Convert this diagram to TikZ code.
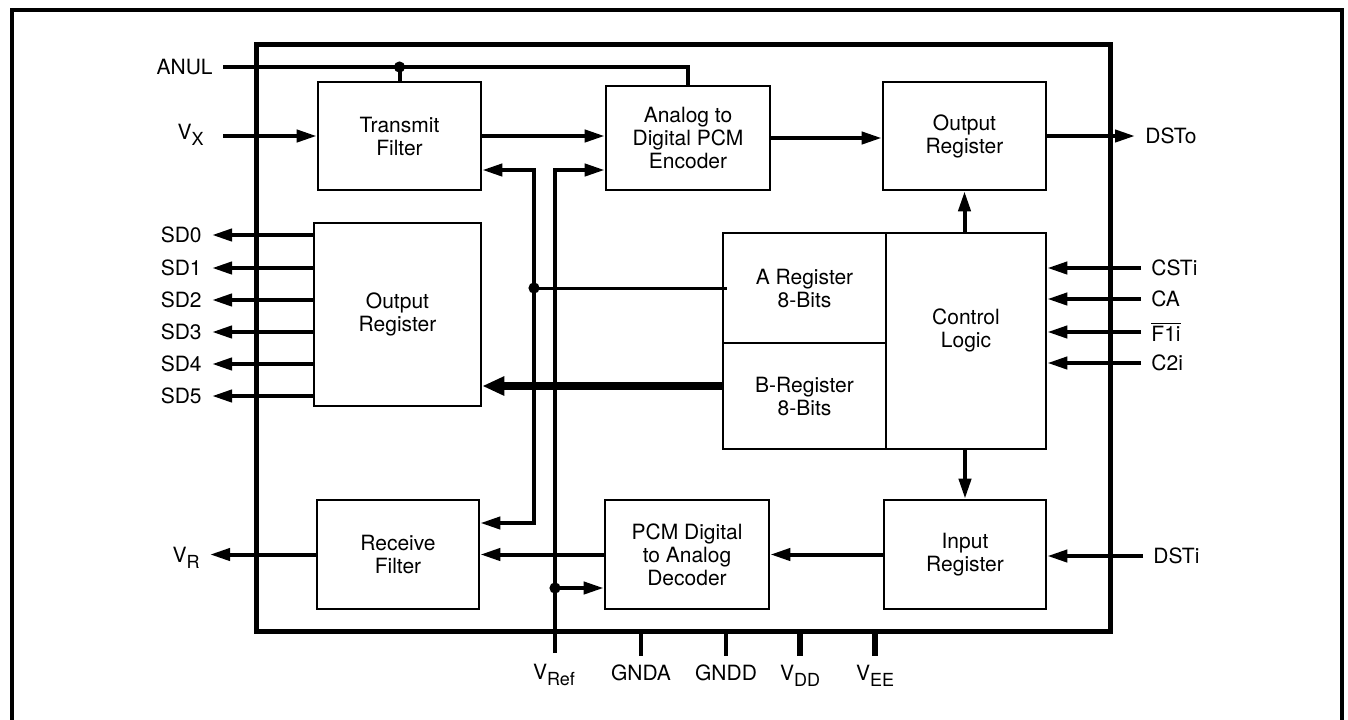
\documentclass[tikz,border=0pt]{standalone}
\usepackage{fontspec}
\setmainfont{TeX Gyre Heros}
\usetikzlibrary{arrows.meta}
\newcommand{\pinsub}[1]{\raisebox{-0.6ex}{\fontsize{9}{10}\selectfont #1}}
\tikzset{
  blk/.style={draw, line width=1.3pt, align=center, inner sep=0pt},
  chip/.style={draw, line width=2.5pt, minimum width=427pt, minimum height=293.5pt},
  pinlbl/.style={inner xsep=5pt, inner ysep=1pt},
  sig/.style={line width=2pt},
  pwr/.style={line width=2.7pt},
  tap/.style={line width=1.5pt},
  bus/.style={line width=4pt, -{Triangle[length=11pt,width=9pt]}},
}
\begin{document}
\begin{tikzpicture}[x=0.5pt,y=-0.5pt,font=\fontsize{10.5}{11.5}\selectfont,>={Triangle[length=10pt,width=6pt]}]
      \useasboundingbox (0,0) rectangle (1348,719);
      \fill[white] (0,0) rectangle (1348,719);
      \draw[line width=2.3pt] (12,725) -- (12,10) -- (1342,10) -- (1342,725);
      \draw
        (683,337.5) node[chip] (chip){}
        (399.5,136) node[blk,minimum width=81.5pt,minimum height=54pt] (tf){Transmit\\Filter}
        (688,138) node[blk,minimum width=82pt,minimum height=52pt] (enc){Analog to\\Digital PCM\\Encoder}
        (964.5,136) node[blk,minimum width=81.5pt,minimum height=54pt] (oreg){Output\\Register}
        (397.5,314.5) node[blk,minimum width=83.5pt,minimum height=91.5pt] (sreg){Output\\Register}
        (804.5,288) node[blk,minimum width=81.5pt,minimum height=55pt] (areg){A Register\\8-Bits}
        (804.5,396) node[blk,minimum width=81.5pt,minimum height=53pt] (breg){B-Register\\8-Bits}
        (966,341) node[blk,minimum width=80pt,minimum height=108pt] (ctl){}
        (966,330) node[align=center] (ctltxt){Control\\Logic}
        (398,554.5) node[blk,minimum width=81pt,minimum height=54.5pt] (rf){Receive\\Filter}
        (687,554.5) node[blk,minimum width=82pt,minimum height=54.5pt] (dec){PCM Digital\\to Analog\\Decoder}
        (965,554.5) node[blk,minimum width=81pt,minimum height=54.5pt] (ireg){Input\\Register};
      \draw
        (223,67) node[pinlbl,anchor=east] (anul){ANUL}
        (214,139) node[pinlbl,anchor=base east] (vx){V\pinsub{X}}
        (212,235) node[pinlbl,anchor=east] (sd0){SD0}
        (212,268) node[pinlbl,anchor=east] (sd1){SD1}
        (212,300) node[pinlbl,anchor=east] (sd2){SD2}
        (212,332) node[pinlbl,anchor=east] (sd3){SD3}
        (212,364) node[pinlbl,anchor=east] (sd4){SD4}
        (212,396) node[pinlbl,anchor=east] (sd5){SD5}
        (210,562) node[pinlbl,anchor=base east] (vr){V\pinsub{R}}
        (1135,136) node[pinlbl,anchor=west] (dsto){DSTo}
        (1141,268) node[pinlbl,anchor=west] (csti){CSTi}
        (1141,299) node[pinlbl,anchor=west] (ca){CA}
        (1141,332) node[pinlbl,anchor=west] (f1i){$\overline{\hbox{F1i}}$}
        (1141,363) node[pinlbl,anchor=west] (c2i){C2i}
        (1143,556) node[pinlbl,anchor=west] (dsti){DSTi}
        (554,679) node[pinlbl,anchor=base] (vref){V\pinsub{Ref}}
        (641,680) node[pinlbl,anchor=base] (gnda){GNDA}
        (726,680) node[pinlbl,anchor=base] (gndd){GNDD}
        (800,680) node[pinlbl,anchor=base] (vdd){V\pinsub{DD}}
        (875,680) node[pinlbl,anchor=base] (vee){V\pinsub{EE}};
      \coordinate (lt) at (534,170);
      \coordinate (lb) at (534,523);
      \coordinate (rt) at (555,170);
      \coordinate (rdot) at (555,588);
      \coordinate (vrefpin) at (555,653);
      \coordinate (bb) at ([yshift=5pt]breg.west);
      \begin{scope}[sig]
        \draw (anul.east) -- (enc.north |- anul.east) -- (enc.north);
        \draw (tf.north |- anul.east) to (tf.north);
        \fill (tf.north |- anul.east) circle (2.8pt);
        \draw (gnda |- chip.south) -- ++(0,22);
        \draw (gndd |- chip.south) -- ++(0,22);
        \draw[pwr] (vdd |- chip.south) -- ++(0,22);
        \draw[pwr] (vee |- chip.south) -- ++(0,22);
      \end{scope}
      \begin{scope}[sig,->]
        \draw ([xshift=4.5pt]vx.east |- tf.west) to (tf.west);
        \draw (tf.east) to (tf.east -| enc.west);
        \draw (enc.east) to (enc.east -| oreg.west);
        \draw (oreg.east) to (oreg.east -| dsto.west);
        \draw (sd0.east -| sreg.west) to (sd0.east);
        \draw (sd1.east -| sreg.west) to (sd1.east);
        \draw (sd2.east -| sreg.west) to (sd2.east);
        \draw (sd3.east -| sreg.west) to (sd3.east);
        \draw (sd4.east -| sreg.west) to (sd4.east);
        \draw (sd5.east -| sreg.west) to (sd5.east);
        \draw (csti.west) to (csti.west -| ctl.east);
        \draw (ca.west) to (ca.west -| ctl.east);
        \draw (f1i.west) to (f1i.west -| ctl.east);
        \draw (c2i.west) to (c2i.west -| ctl.east);
        \draw (oreg.south |- ctl.north) to (oreg.south);
        \draw (ireg.north |- ctl.south) to (ireg.north);
        \draw (dsti.west) to (dsti.west -| ireg.east);
        \draw (ireg.west) to (ireg.west -| dec.east);
        \draw (dec.west) to (dec.west -| rf.east);
        \draw (rf.west) to (vr.east |- rf.west);
        \draw[<->] (lt -| tf.east) -- (lt) -- (lb) -- (lb -| rf.east);
        \draw (vrefpin) -- (rt) -- (rt -| enc.west);
        \draw (rdot) to (rdot -| dec.west);
        \fill (rdot) circle (2.8pt);
      \end{scope}
      \draw[tap] (lt |- areg.west) to ([xshift=2.5pt]areg.west);
      \fill (lt |- areg.west) circle (2.8pt);
      \draw[bus] (bb) to (bb -| sreg.east);
    \end{tikzpicture}
\end{document}
